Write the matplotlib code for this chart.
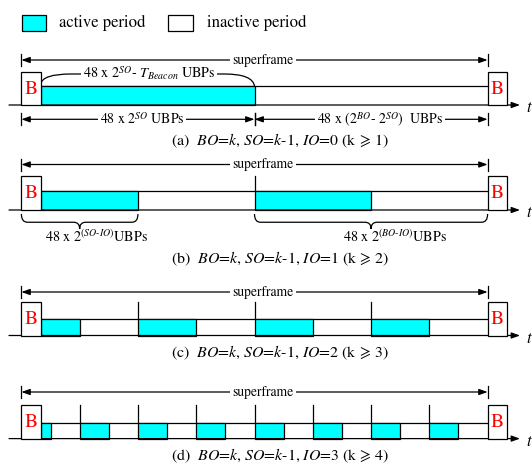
import matplotlib.pyplot as plt
import matplotlib.patches as mpatches
from matplotlib.path import Path

plt.rcParams['font.family'] = ['STIXGeneral', 'DejaVu Serif']
plt.rcParams['mathtext.fontset'] = 'stix'

# ── data ──────────────────────────────────────────────
PANEL_TAGS = ["a", "b", "c", "d"]
IO_VALUES = [0, 1, 2, 3]
K_MIN = [1, 2, 3, 4]
LEGEND_LABELS = ["active period", "inactive period"]

ACTIVE = "#00FFFF"

# ── layout (pixel coordinates) ────────────────────────
X0, X1 = 21.4, 487.6       # superframe start / end
BW = 19.3                  # beacon width
# superframe-arrow y, box top, timeline top, baseline, caption y
ROWS = [
    (60.0, 72.0, 86.0, 105.0, 140.5),
    (164.5, 175.5, 191.0, 210.0, 259.0),
    (292.0, 302.0, 319.0, 335.5, 353.0),
    (392.0, 404.5, 422.5, 438.6, 455.5),
]

fig = plt.figure(figsize=(5.32, 4.68), dpi=100)
ax = fig.add_axes([0, 0, 1, 1])
ax.set_xlim(0, 532)
ax.set_ylim(468, 0)
ax.axis("off")

LW = 0.9


def dim_arrow(xa, xb, y, label, xt=None, fs=10, bar=6):
    ax.annotate("", xy=(xa, y), xytext=(xb, y),
                arrowprops=dict(arrowstyle="<|-|>,head_length=0.5,head_width=0.18",
                                color="black", lw=LW, shrinkA=0, shrinkB=0))
    for x in (xa, xb):
        ax.plot([x, x], [y - bar, y + bar], color="black", lw=LW)
    if xt is None:
        xt = (xa + xb) / 2
    ax.text(xt, y, label, ha="center", va="center", fontsize=fs,
            bbox=dict(facecolor="white", edgecolor="none", pad=1.5))


def brace_down(xa, xb, ytop, h, tip=None):
    if tip is None:
        tip = (xa + xb) / 2
    ym = ytop + h * 0.55
    r = 6
    verts = [(xa, ytop), (xa, ym), (xa + r, ym),
             (tip - r, ym), (tip, ym), (tip, ytop + h),
             (tip, ym), (tip + r, ym),
             (xb - r, ym), (xb, ym), (xb, ytop)]
    codes = [Path.MOVETO, Path.CURVE3, Path.CURVE3,
             Path.LINETO, Path.CURVE3, Path.CURVE3,
             Path.CURVE3, Path.CURVE3,
             Path.LINETO, Path.CURVE3, Path.CURVE3]
    ax.add_patch(mpatches.PathPatch(Path(verts, codes), fill=False,
                                    edgecolor="black", lw=LW))


# legend
ax.add_patch(mpatches.Rectangle((21.7, 15), 24, 16, facecolor=ACTIVE,
                                edgecolor="black", lw=LW))
ax.add_patch(mpatches.Rectangle((168, 15), 25, 16, facecolor="white",
                                edgecolor="black", lw=LW))
ax.text(59, 22.5, LEGEND_LABELS[0], ha="left", va="center", fontsize=12)
ax.text(207, 22.5, LEGEND_LABELS[1], ha="left", va="center", fontsize=12)

for tag, io, kmin, (sfy, btop, tline, base, capy) in zip(PANEL_TAGS, IO_VALUES, K_MIN, ROWS):
    # superframe arrow
    dim_arrow(X0, X1, sfy, "superframe", xt=263, fs=9.8)

    # baseline with time arrow
    ax.annotate("", xy=(520, base), xytext=(9, base),
                arrowprops=dict(arrowstyle="-|>,head_length=0.5,head_width=0.18",
                                color="black", lw=LW, shrinkA=0, shrinkB=0))
    ax.text(526, base + 3, "t", fontsize=12, style="italic", ha="left", va="center")

    # timeline top
    ax.plot([X0 + BW, X1], [tline, tline], color="black", lw=LW)

    n = 2 ** io
    period = (X1 - X0) / n
    active = period / 2  # SO = BO - 1
    for j in range(n):
        s = X0 + j * period
        a0 = max(s, X0 + BW)
        ax.add_patch(mpatches.Rectangle((a0, tline), s + active - a0, base - tline,
                                        facecolor=ACTIVE, edgecolor="black", lw=LW, zorder=2))
        if j > 0:
            ax.plot([s, s], [btop, tline], color="black", lw=LW)

    # beacons
    for bx in (X0, X1):
        ax.add_patch(mpatches.Rectangle((bx, btop), BW, base - btop, facecolor="white",
                                        edgecolor="black", lw=LW, zorder=3))
        ax.text(bx + BW / 2, (btop + base) / 2 + 0.5, "B", color="red", fontsize=14,
                ha="center", va="center", zorder=4)

    ax.text(280, capy, f"({tag})  $BO$=$k$, $SO$=$k$-1, $IO$={io} (k$\\,\\geqslant\\,${kmin})",
            ha="center", va="center", fontsize=11.4)

# panel (a) annotations
sfy, btop, tline, base, capy = ROWS[0]
mid = (X0 + X1) / 2
ly = 74.0
verts = [(X0 + BW, tline - 2), (X0 + BW + 2, ly), (X0 + BW + 30, ly),
         (mid - 30, ly), (mid - 2, ly), (mid, tline)]
codes = [Path.MOVETO, Path.CURVE3, Path.CURVE3, Path.LINETO, Path.CURVE3, Path.CURVE3]
ax.add_patch(mpatches.PathPatch(Path(verts, codes), fill=False, edgecolor="black", lw=LW))
ax.text(149, ly, "48 x 2$^{SO}$- $T_{Beacon}$ UBPs", ha="center", va="center",
        fontsize=10.2, bbox=dict(facecolor="white", edgecolor="none", pad=1))
dim_arrow(X0, mid, 119.3, "48 x 2$^{SO}$ UBPs", xt=142)
dim_arrow(mid, X1, 119.3, "48 x (2$^{BO}$- 2$^{SO}$)  UBPs", xt=380)

# panel (b) braces
sfy, btop, tline, base, capy = ROWS[1]
brace_down(X0, X0 + (X1 - X0) / 4, 214, 15)
brace_down(mid, X1, 214, 15)
ax.text(96, 237, "48 x 2$^{(SO\\text{-}IO)}$UBPs", ha="center", va="center", fontsize=10.2)
ax.text(395, 237, "48 x 2$^{(BO\\text{-}IO)}$UBPs", ha="center", va="center", fontsize=10.2)

fig.savefig("out.png", dpi=100, facecolor="white")
